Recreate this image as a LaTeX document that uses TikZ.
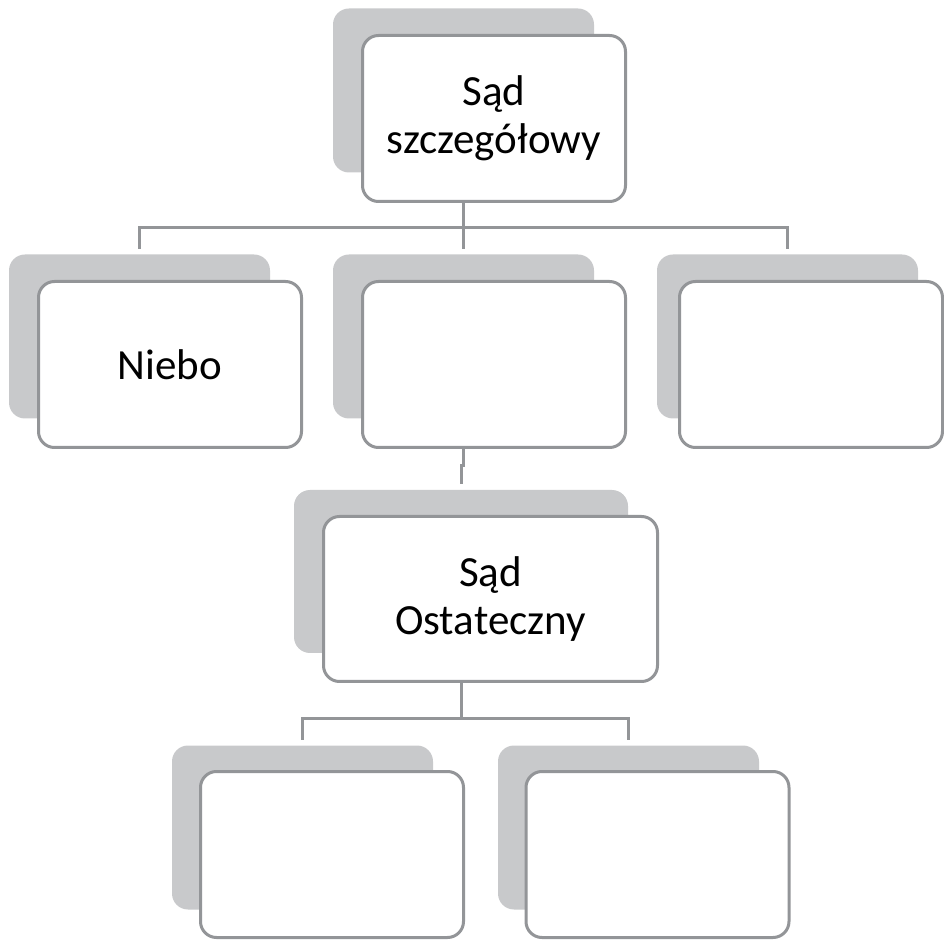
\documentclass[tikz,border=0pt]{standalone}
\usepackage{fontspec}
\setmainfont{Carlito}
\usetikzlibrary{backgrounds}
\definecolor{linegray}{RGB}{147,149,152}
\definecolor{backgray}{RGB}{200,201,203}
\begin{document}
\begin{tikzpicture}[x=0.5pt, y=-0.5pt, line width=1.5pt,
  backcard/.style={fill=backgray, rounded corners=8pt, inner sep=0pt, minimum width=130.5pt, minimum height=82pt},
  frontcard/.style={draw=linegray, fill=white, rounded corners=8pt, inner sep=0pt, minimum width=131.5pt, minimum height=83pt, align=center, font=\fontsize{21.5}{24}\selectfont},
  link/.style={draw=linegray, line width=1.5pt}]

\useasboundingbox (0,0) rectangle (944,941);

% back cards
\foreach \n/\x/\y in {sad/463.5/90.5, niebo/139.5/336.5, mid/463.5/336.5, right/787.5/336.5, lowl/302.5/827.5, lowr/628.5/827.5}
\node [backcard] (\n-s) at (\x,\y) {};
\node [backcard, minimum width=167pt, minimum height=81.5pt] (ost-s) at (461,571.5) {};

% front cards
\node [frontcard] (sad) at (494,118.5) {Sąd\\szczegółowy};
\node [frontcard] (niebo) at (170,364.5) {Niebo};
\node [frontcard] (mid) at (494,364.5) {};
\node [frontcard] (right) at (811,364.5) {};
\node [frontcard, minimum width=167pt, minimum height=82.5pt] (ost) at (490.5,599) {Sąd\\Ostateczny};
\node [frontcard] (lowl) at (332,854.5) {};
\node [frontcard] (lowr) at (657.5,854.5) {};

% connectors
\begin{scope}[on background layer]
\coordinate (bus1) at (463.5,228);
\coordinate (bus2) at (461,718);
\draw [link] (sad-s.south) -- (bus1);
\foreach \c in {niebo-s, mid-s, right-s}
\draw [link, shorten >=2pt] (bus1) -| (\c.north);
\draw [link, shorten >=2pt] (mid-s.south) -- ++(0,46) -| (ost-s.north);
\draw [link] (ost-s.south) -- (bus2);
\foreach \c in {lowl-s, lowr-s}
\draw [link, shorten >=2pt] (bus2) -| (\c.north);
\end{scope}
\end{tikzpicture}
\end{document}
